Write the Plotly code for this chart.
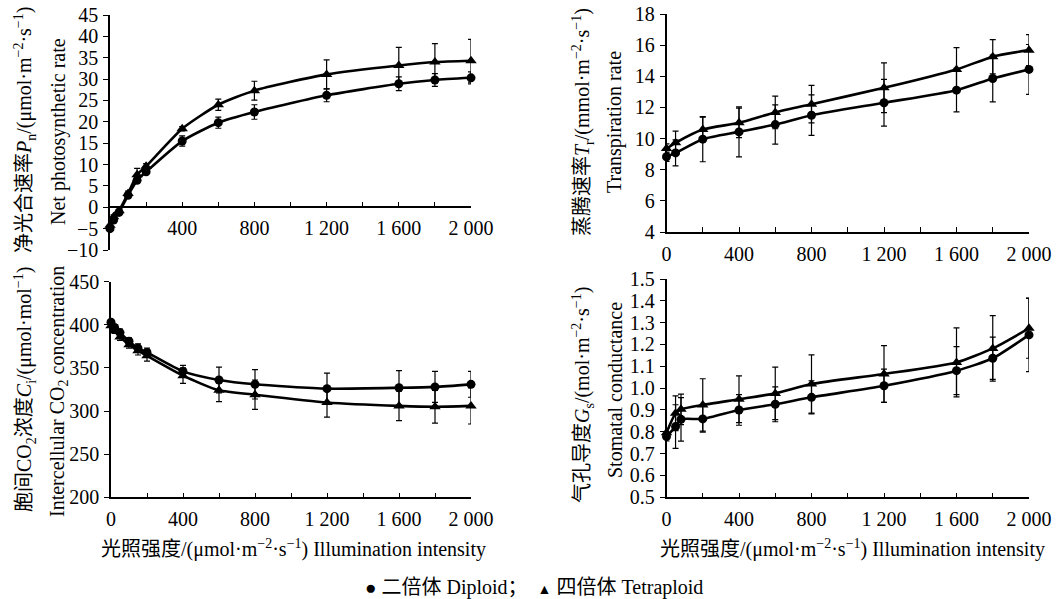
import plotly.graph_objects as go

# ---------------- data ----------------
pn_x = [0, 20, 50, 100, 150, 200, 400, 600, 800, 1200, 1600, 1800, 2000]
pn_dip = [-5.0, -3.0, -1.2, 2.8, 6.3, 8.3, 15.5, 19.8, 22.3, 26.2, 28.9, 29.8, 30.3]
pn_dip_err = [0.5, 0.5, 0.5, 0.6, 0.6, 0.6, 1.2, 1.3, 1.7, 1.5, 1.6, 1.5, 1.4]
pn_tet = [-4.2, -2.2, -0.8, 3.2, 7.6, 9.6, 18.4, 24.0, 27.3, 31.1, 33.2, 34.0, 34.3]
pn_tet_err = [0.4, 0.4, 0.4, 0.6, 1.5, 0.6, 0.5, 1.3, 2.2, 3.4, 4.2, 4.3, 5.0]

tr_x = [0, 50, 200, 400, 600, 800, 1200, 1600, 1800, 2000]
tr_dip = [8.83, 9.08, 9.96, 10.43, 10.9, 11.5, 12.3, 13.11, 13.86, 14.44]
tr_dip_err = [0.3, 0.83, 1.45, 1.6, 1.26, 1.3, 1.5, 1.4, 1.5, 1.6]
tr_tet = [9.36, 9.73, 10.58, 11.01, 11.68, 12.21, 13.26, 14.44, 15.26, 15.68]
tr_tet_err = [0.3, 0.75, 0.8, 0.95, 1.05, 1.2, 1.6, 1.4, 1.1, 1.0]

ci_x = [0, 20, 50, 100, 150, 200, 400, 600, 800, 1200, 1600, 1800, 2000]
ci_dip = [403, 397, 391, 381, 373, 368, 346, 336, 331, 326, 327, 328, 331]
ci_dip_err = [3, 3, 4, 4, 5, 5, 7, 15, 17, 18, 20, 18, 15]
ci_tet = [399, 393, 386, 377, 370, 364, 341, 324, 319, 310, 306, 305, 306]
ci_tet_err = [3, 3, 4, 4, 5, 6, 9, 13, 17, 17, 17, 19, 21]

gs_x = [0, 50, 80, 200, 400, 600, 800, 1200, 1600, 1800, 2000]
gs_dip = [0.778, 0.824, 0.857, 0.859, 0.900, 0.926, 0.958, 1.011, 1.080, 1.137, 1.244]
gs_dip_err = [0.02, 0.10, 0.10, 0.06, 0.07, 0.08, 0.076, 0.076, 0.11, 0.097, 0.168]
gs_tet = [0.796, 0.885, 0.903, 0.923, 0.949, 0.976, 1.019, 1.065, 1.118, 1.182, 1.274]
gs_tet_err = [0.02, 0.08, 0.07, 0.12, 0.107, 0.12, 0.133, 0.13, 0.158, 0.15, 0.137]

x_tickvals = [0, 400, 800, 1200, 1600, 2000]
x_ticktext = ["0", "400", "800", "1 200", "1 600", "2 000"]
x_minor = [200, 600, 1000, 1400, 1800]

FONT = "Liberation Serif, Noto Sans CJK SC, serif"
W, H = 1060, 599

fig = go.Figure()

panels = [
    ("x", "y", pn_x, pn_dip, pn_dip_err, pn_tet, pn_tet_err),
    ("x2", "y2", tr_x, tr_dip, tr_dip_err, tr_tet, tr_tet_err),
    ("x3", "y3", ci_x, ci_dip, ci_dip_err, ci_tet, ci_tet_err),
    ("x4", "y4", gs_x, gs_dip, gs_dip_err, gs_tet, gs_tet_err),
]
for xa, ya, xs, d, de, t, te in panels:
    for ys, es, sym, sz in [(d, de, "circle", 9), (t, te, "triangle-up", 10)]:
        fig.add_trace(go.Scatter(
            x=xs, y=ys, xaxis=xa, yaxis=ya, mode="lines+markers",
            line=dict(color="black", width=2.6, shape="spline", smoothing=0.6),
            marker=dict(symbol=sym, size=sz, color="black"),
            error_y=dict(type="data", array=es, visible=True, color="black",
                         thickness=1.2, width=3),
            showlegend=False, cliponaxis=False,
        ))

def px2x(p):
    return p / W

def px2y(p):
    return 1 - p / H

dom = {
    "tl": ((110, 471), (15, 250)),
    "tr": ((666.5, 1029), (14, 232)),
    "bl": ((111, 471), (281.7, 497.3)),
    "br": ((666.5, 1029), (279, 497.3)),
}

def xdom(k):
    a, b = dom[k][0]
    return [px2x(a), px2x(b)]

def ydom(k):
    a, b = dom[k][1]
    return [px2y(b), px2y(a)]

tickfont = dict(family=FONT, size=20, color="black")

def xaxis_cfg(k, anchor, ticktext, position=None):
    cfg = dict(
        domain=xdom(k), range=[0, 2000], tickvals=x_tickvals, ticktext=ticktext,
        ticks="inside", ticklen=5, tickwidth=1.2, tickcolor="black",
        showline=True, linecolor="black", linewidth=1.5,
        showgrid=False, zeroline=False, tickfont=tickfont, automargin=False,
        ticklabeloverflow="allow",
        minor=dict(tickvals=x_minor, ticks="inside", ticklen=5, tickwidth=1.2,
                   tickcolor="black", showgrid=False),
        ticklabelstandoff=3,
    )
    if position is None:
        cfg["anchor"] = anchor
    else:
        cfg["anchor"] = "free"
        cfg["position"] = position
    return cfg

def yaxis_cfg(k, anchor, rng, dtick, fmt=None):
    cfg = dict(
        domain=ydom(k), range=rng, dtick=dtick, tick0=rng[0], anchor=anchor,
        ticks="outside", ticklen=5, tickwidth=1.2, tickcolor="black",
        showline=True, linecolor="black", linewidth=1.5, automargin=False,
        ticklabeloverflow="allow",
        showgrid=False, zeroline=False, tickfont=tickfont, ticklabelstandoff=1,
    )
    if fmt:
        cfg["tickformat"] = fmt
    return cfg

tl_y0_px = 15 + (45 - 0) / 55 * (250 - 15)
tl_text = ["", "400", "800", "1 200", "1 600", "2 000"]

fig.update_layout(
    template="none",
    width=W, height=H, margin=dict(l=0, r=0, t=0, b=0, autoexpand=False),
    paper_bgcolor="white", plot_bgcolor="white",
    font=dict(family=FONT, color="black"),
    xaxis=xaxis_cfg("tl", "y", tl_text, position=px2y(tl_y0_px)),
    yaxis=yaxis_cfg("tl", "x", [-10, 45], 5),
    xaxis2=xaxis_cfg("tr", "y2", x_ticktext),
    yaxis2=yaxis_cfg("tr", "x2", [4, 18], 2),
    xaxis3=xaxis_cfg("bl", "y3", x_ticktext),
    yaxis3=yaxis_cfg("bl", "x3", [200, 450], 50),
    xaxis4=xaxis_cfg("br", "y4", x_ticktext),
    yaxis4=yaxis_cfg("br", "x4", [0.5, 1.5], 0.1, ".1f"),
)

tfont = dict(family=FONT, size=20, color="black")

def vtitle(xpx, ypx, text):
    fig.add_annotation(x=px2x(xpx), y=px2y(ypx), xref="paper", yref="paper",
                       text=text, textangle=-90, showarrow=False,
                       xanchor="center", yanchor="middle", font=tfont)

vtitle(25, 130, "净光合速率<i>P</i><sub>n</sub>/(μmol·m<sup>−2</sup>·s<sup>−1</sup>)")
vtitle(58, 132, "Net photosynthetic rate")
vtitle(583, 122, "蒸腾速率<i>T</i><sub>r</sub>/(mmol·m<sup>−2</sup>·s<sup>−1</sup>)")
vtitle(615, 122, "Transpiration rate")
vtitle(25, 390, "胞间CO<sub>2</sub>浓度<i>C</i><sub>i</sub>/(μmol·mol<sup>−1</sup>)")
vtitle(58, 392, "Intercellular CO<sub>2</sub> concentration")
vtitle(583, 395, "气孔导度<i>G</i><sub>s</sub>/(mol·m<sup>−2</sup>·s<sup>−1</sup>)")
vtitle(615, 390, "Stomatal conductance")

xt = "光照强度/(μmol·m<sup>−2</sup>·s<sup>−1</sup>) Illumination intensity"
for cx in (293, 852):
    fig.add_annotation(x=px2x(cx), y=px2y(548), xref="paper", yref="paper",
                       text=xt, showarrow=False, xanchor="center",
                       yanchor="middle", font=tfont)

fig.add_annotation(x=px2x(534), y=px2y(587), xref="paper", yref="paper",
                   text="<span style='font-size:19px'>●</span> 二倍体 Diploid；  "
                        "<span style='font-size:14px'>▲</span> 四倍体 Tetraploid",
                   showarrow=False, xanchor="center", yanchor="middle",
                   font=dict(family=FONT, size=20, color="black"))

# remove the default 8px page margin so the figure sits at the window's corner
post = ("document.body.style.margin='0';"
        "document.body.style.overflow='hidden';"
        "var gd=document.getElementById('{plot_id}');"
        "Plotly.newPlot(gd, gd.data, gd.layout, {displayModeBar: false});")

fig.write_html("out.html", post_script=post, config={"displayModeBar": False})
